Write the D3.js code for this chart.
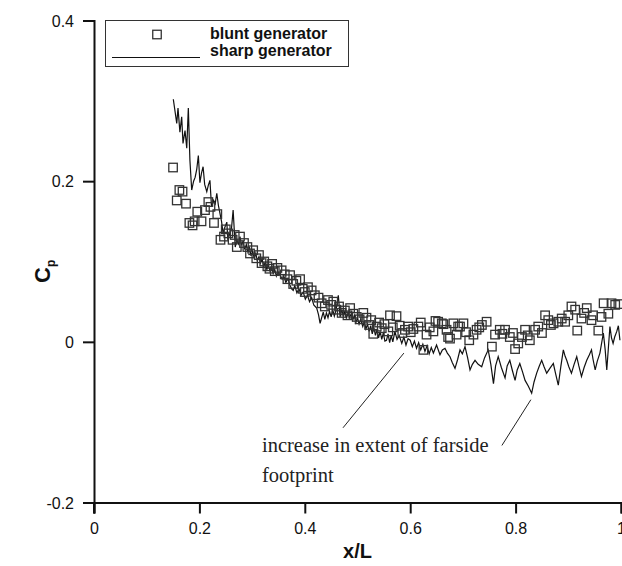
<!DOCTYPE html>
<html><head><meta charset="utf-8">
<script src="https://cdn.jsdelivr.net/npm/d3@7"></script>
<style>body{margin:0;background:#fff}svg{display:block}</style>
</head><body>
<script>
const xTicks = [0, 0.2, 0.4, 0.6, 0.8, 1];
const yTicks = [-0.2, 0, 0.2, 0.4];
const seriesNames = ["blunt generator", "sharp generator"];
const bluntX = [0.150,0.157,0.162,0.168,0.1746,0.181,0.187,0.191,0.196,0.204,0.2106,0.217,0.221,0.2277,0.234,0.240,0.2467,0.250,0.255,0.263,0.267,0.271,0.277,0.2846,0.291,0.296,0.302,0.308,0.313,0.318,0.323,0.329,0.333,0.338,0.343,0.348,0.356,0.362,0.367,0.372,0.378,0.384,0.391,0.396,0.400,0.406,0.413,0.419,0.426,0.432,0.438,0.444,0.450,0.454,0.460,0.465,0.470,0.476,0.481,0.486,0.492,0.4985,0.504,0.511,0.517,0.522,0.526,0.530,0.5365,0.541,0.546,0.551,0.5585,0.5617,0.567,0.574,0.580,0.585,0.590,0.596,0.601,0.606,0.6155,0.620,0.625,0.631,0.637,0.644,0.648,0.653,0.660,0.663,0.669,0.672,0.6755,0.682,0.688,0.691,0.6945,0.701,0.706,0.712,0.720,0.726,0.731,0.736,0.745,0.755,0.761,0.770,0.775,0.780,0.789,0.795,0.799,0.805,0.812,0.818,0.823,0.827,0.837,0.843,0.850,0.856,0.862,0.867,0.872,0.881,0.8875,0.894,0.900,0.906,0.913,0.917,0.925,0.930,0.935,0.944,0.947,0.957,0.963,0.967,0.976,0.982,0.989,0.995];
const bluntCp = [0.217,0.176,0.189,0.187,0.172,0.148,0.145,0.150,0.162,0.150,0.164,0.174,0.168,0.148,0.159,0.127,0.131,0.140,0.135,0.127,0.133,0.118,0.131,0.123,0.118,0.110,0.114,0.104,0.108,0.098,0.100,0.094,0.091,0.097,0.088,0.092,0.089,0.084,0.078,0.083,0.072,0.076,0.078,0.066,0.062,0.068,0.064,0.058,0.055,0.048,0.044,0.052,0.046,0.050,0.040,0.044,0.036,0.039,0.033,0.042,0.035,0.031,0.028,0.036,0.030,0.021,0.027,0.010,0.019,0.024,0.017,0.022,0.013,0.033,0.018,0.032,0.020,0.011,0.015,0.019,0.012,0.016,0.019,0.024,-0.010,0.009,0.018,0.013,0.026,0.025,0.023,0.022,0.015,0.006,0.004,0.023,0.009,0.019,0.019,0.023,0.012,0.002,0.009,0.015,0.018,0.021,0.025,-0.006,0.009,0.015,0.010,0.015,0.006,0.011,-0.009,-0.002,0.006,0.015,0.008,0.002,0.015,0.019,0.011,0.033,0.027,0.021,0.023,0.025,0.029,0.025,0.033,0.044,0.040,0.014,0.029,0.036,0.042,0.027,0.033,0.014,0.031,0.048,0.035,0.048,0.046,0.047];
const sharpX = [0.1505,0.157,0.1594,0.163,0.1664,0.1689,0.1727,0.176,0.179,0.182,0.1854,0.189,0.192,0.195,0.198,0.201,0.204,0.207,0.210,0.214,0.217,0.220,0.223,0.227,0.230,0.233,0.236,0.239,0.242,0.245,0.248,0.252,0.254,0.258,0.261,0.264,0.268,0.271,0.274,0.277,0.280,0.283,0.286,0.289,0.292,0.295,0.298,0.301,0.304,0.307,0.310,0.313,0.316,0.319,0.322,0.325,0.328,0.331,0.334,0.337,0.340,0.343,0.346,0.349,0.353,0.357,0.360,0.364,0.368,0.372,0.375,0.378,0.381,0.385,0.389,0.393,0.397,0.401,0.405,0.409,0.413,0.417,0.4226,0.426,0.429,0.432,0.435,0.438,0.441,0.444,0.447,0.450,0.453,0.456,0.459,0.4636,0.467,0.470,0.473,0.476,0.479,0.482,0.485,0.488,0.491,0.494,0.497,0.500,0.503,0.506,0.510,0.513,0.516,0.519,0.522,0.525,0.528,0.531,0.534,0.537,0.540,0.543,0.546,0.549,0.552,0.555,0.558,0.561,0.564,0.567,0.571,0.575,0.579,0.584,0.588,0.592,0.596,0.600,0.604,0.608,0.612,0.616,0.620,0.624,0.628,0.632,0.636,0.640,0.644,0.650,0.6565,0.661,0.666,0.6705,0.6755,0.680,0.685,0.690,0.6945,0.699,0.704,0.709,0.7135,0.718,0.723,0.729,0.7357,0.741,0.748,0.753,0.758,0.762,0.767,0.773,0.780,0.784,0.789,0.794,0.799,0.803,0.808,0.813,0.818,0.824,0.8305,0.835,0.840,0.845,0.8495,0.854,0.859,0.865,0.8716,0.876,0.881,0.886,0.8906,0.894,0.897,0.901,0.906,0.911,0.916,0.920,0.925,0.930,0.935,0.940,0.944,0.947,0.951,0.955,0.960,0.9665,0.970,0.973,0.976,0.979,0.982,0.985,0.988,0.992,0.995,0.998];
const sharpCp = [0.302,0.272,0.291,0.261,0.280,0.247,0.263,0.241,0.291,0.226,0.189,0.200,0.205,0.215,0.232,0.198,0.210,0.218,0.196,0.187,0.195,0.201,0.168,0.176,0.172,0.185,0.170,0.160,0.150,0.135,0.142,0.149,0.127,0.136,0.142,0.164,0.118,0.126,0.122,0.131,0.120,0.126,0.115,0.121,0.112,0.118,0.107,0.113,0.104,0.110,0.101,0.106,0.098,0.103,0.094,0.099,0.090,0.096,0.088,0.093,0.085,0.090,0.082,0.087,0.083,0.078,0.082,0.074,0.079,0.070,0.066,0.064,0.070,0.061,0.066,0.058,0.062,0.053,0.058,0.050,0.055,0.046,0.042,0.034,0.023,0.030,0.037,0.028,0.036,0.030,0.038,0.031,0.040,0.032,0.039,0.058,0.031,0.040,0.033,0.038,0.029,0.036,0.030,0.035,0.027,0.033,0.024,0.030,0.022,0.028,0.019,0.025,0.016,0.022,0.013,0.020,0.010,0.018,0.008,0.015,0.005,0.013,0.003,0.011,0.001,0.002,0.010,-0.001,0.008,0.000,0.013,0.003,0.008,-0.002,0.006,-0.004,0.004,0.002,-0.006,0.001,-0.008,-0.001,-0.010,-0.003,-0.012,-0.005,-0.015,-0.007,-0.014,-0.004,-0.016,-0.010,-0.008,-0.014,-0.0185,-0.026,-0.033,-0.022,-0.010,-0.015,-0.006,-0.020,-0.035,-0.028,-0.023,-0.028,-0.031,-0.020,-0.010,-0.028,-0.052,-0.030,-0.0185,-0.032,-0.045,-0.030,-0.023,-0.036,-0.048,-0.035,-0.027,-0.037,-0.048,-0.055,-0.064,-0.050,-0.039,-0.030,-0.023,-0.031,-0.039,-0.033,-0.027,-0.040,-0.054,-0.030,-0.010,-0.018,-0.023,-0.031,-0.039,-0.028,-0.0185,-0.030,-0.043,-0.032,-0.023,-0.016,-0.010,-0.022,-0.035,-0.024,-0.014,0.011,-0.010,-0.035,-0.008,0.019,0.005,-0.002,0.006,0.013,0.020,0.002];
const noteLines = ["increase in extent of farside", "footprint"];
const leaders = [[[0.4725,-0.107],[0.588,-0.014]], [[0.774,-0.129],[0.829,-0.072]]];

const W = 622, H = 566;
const x = d3.scaleLinear().domain([0, 1]).range([94, 621]);
const y = d3.scaleLinear().domain([-0.2, 0.4]).range([502.5, 20.5]);
const svg = d3.select("body").append("svg").attr("width", W).attr("height", H);

const sans = "'Liberation Sans', Arial, Helvetica, sans-serif";
const fmt = d => d3.format("~g")(d).replace("\u2212", "-");

// data: sharp line
const sharp = sharpX.map((v, i) => [v, sharpCp[i]]);
svg.append("path").datum(sharp)
  .attr("fill", "none").attr("stroke", "#111").attr("stroke-width", 1.2)
  .attr("d", d3.line().x(d => x(d[0])).y(d => y(d[1])));

// data: blunt squares
const s = 8.5;
svg.append("g").selectAll("rect").data(bluntX.map((v, i) => [v, bluntCp[i]])).join("rect")
  .attr("x", d => x(d[0]) - s / 2).attr("y", d => y(d[1]) - s / 2)
  .attr("width", s).attr("height", s)
  .attr("fill", "none").attr("stroke", "#333").attr("stroke-width", 1.3);

// axes
const xAxis = svg.append("g").attr("transform", `translate(0,${y(-0.2)})`)
  .call(d3.axisBottom(x).tickValues(xTicks).tickSize(11).tickPadding(9).tickFormat(fmt));
const yAxis = svg.append("g").attr("transform", `translate(${x(0)},0)`)
  .call(d3.axisLeft(y).tickValues(yTicks).tickSize(11).tickPadding(9).tickFormat(fmt));
[xAxis, yAxis].forEach(g => {
  g.select(".domain").attr("stroke", "#111").attr("stroke-width", 2);
  g.selectAll(".tick line").attr("stroke", "#111").attr("stroke-width", 2);
  g.selectAll(".tick text").attr("fill", "#111").style("font-family", sans).style("font-size", "16px");
});
yAxis.selectAll(".tick text").attr("dy", "0.36em");
yAxis.append("line").attr("x1", 0).attr("x2", 0).attr("y1", y(-0.2)).attr("y2", y(-0.2) + 11)
  .attr("stroke", "#111").attr("stroke-width", 2);

// axis titles
svg.append("text").attr("x", (x(0) + x(1)) / 2).attr("y", 558)
  .attr("text-anchor", "middle").style("font-family", sans).style("font-weight", "bold")
  .style("font-size", "20px").attr("fill", "#111").text("x/L");
const yt = svg.append("text").attr("transform", `translate(50,283) rotate(-90)`)
  .attr("text-anchor", "start").style("font-family", sans).style("font-weight", "bold")
  .style("font-size", "22px").attr("fill", "#111");
yt.append("tspan").text("C");
yt.append("tspan").attr("dy", "5").style("font-size", "12px").text("p");

// legend
const lg = svg.append("g");
lg.append("rect").attr("x", 105.5).attr("y", 20.5).attr("width", 243).attr("height", 46)
  .attr("fill", "#fff").attr("stroke", "#333").attr("stroke-width", 1);
lg.append("rect").attr("x", 157 - s / 2).attr("y", 34.5 - s / 2).attr("width", s).attr("height", s)
  .attr("fill", "none").attr("stroke", "#333").attr("stroke-width", 1.3);
lg.append("line").attr("x1", 112).attr("x2", 200).attr("y1", 57.5).attr("y2", 57.5)
  .attr("stroke", "#111").attr("stroke-width", 1.2);
seriesNames.forEach((n, i) => {
  lg.append("text").attr("x", 210).attr("y", 39 + i * 17).style("font-family", sans)
    .style("font-weight", "bold").style("font-size", "16px").attr("fill", "#111").text(n);
});

// annotation
leaders.forEach(l => {
  svg.append("line").attr("x1", x(l[0][0])).attr("y1", y(l[0][1]))
    .attr("x2", x(l[1][0])).attr("y2", y(l[1][1]))
    .attr("stroke", "#222").attr("stroke-width", 1);
});
noteLines.forEach((t, i) => {
  svg.append("text").attr("x", 262).attr("y", 452 + i * 30)
    .style("font-family", "'Liberation Serif', 'Times New Roman', serif").style("font-size", "20.5px")
    .attr("fill", "#222").text(t);
});
</script>
</body></html>
